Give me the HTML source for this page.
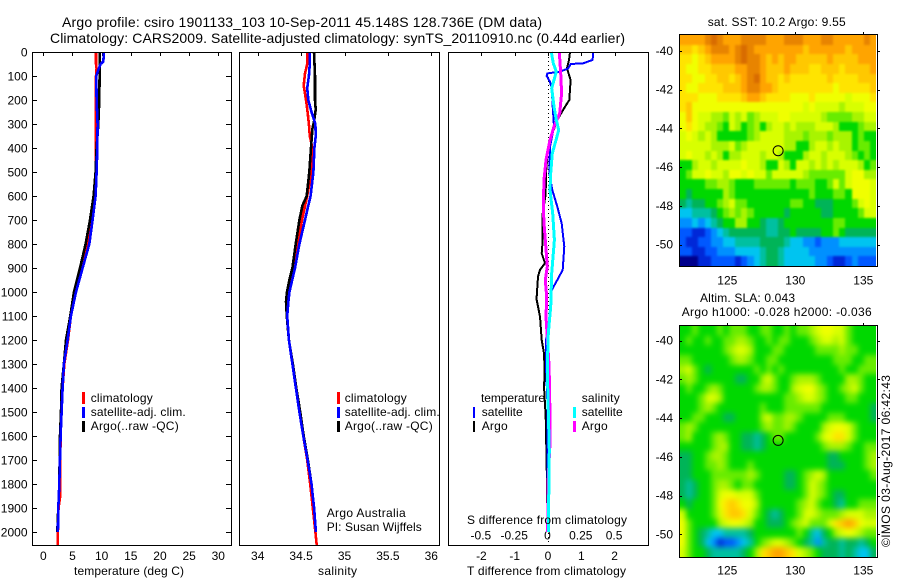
<!DOCTYPE html>
<html lang="en">
<head>
<meta charset="utf-8">
<title>Argo profile csiro 1901133_103</title>
<style>
html,body{margin:0;padding:0;background:#fff;}
svg{display:block;font-family:"Liberation Sans",sans-serif;font-size:12px;fill:#000;}
.frame{fill:none;stroke:#000;stroke-width:1;shape-rendering:crispEdges;}
.tick{stroke:#000;stroke-width:1;shape-rendering:crispEdges;}
.line{fill:none;shape-rendering:crispEdges;stroke-linejoin:miter;}
.swatch{shape-rendering:crispEdges;}
.title{font-size:14px;}
</style>
</head>
<body>
<svg id="chart" xmlns="http://www.w3.org/2000/svg" width="900" height="580" viewBox="0 0 900 580">
  <defs>
    <clipPath id="clip-sst"><rect x="680" y="35" width="196" height="231"/></clipPath>
    <clipPath id="clip-sla"><rect x="680" y="326" width="196" height="231"/></clipPath>
    <filter id="soft-sst" filterUnits="userSpaceOnUse" x="650" y="5" width="256" height="291" color-interpolation-filters="sRGB"><feGaussianBlur stdDeviation="1"/></filter>
    <filter id="soft-sla" filterUnits="userSpaceOnUse" x="650" y="296" width="256" height="291" color-interpolation-filters="sRGB"><feGaussianBlur stdDeviation="3"/></filter>
  </defs>
  <rect x="0" y="0" width="900" height="580" fill="#fff"/>
  <text class="title" x="62" y="27" textLength="480" lengthAdjust="spacing">Argo profile: csiro 1901133_103 10-Sep-2011 45.148S 128.736E (DM data)</text>
  <text class="title" x="50" y="43" textLength="575" lengthAdjust="spacing">Climatology: CARS2009. Satellite-adjusted climatology: synTS_20110910.nc (0.44d earlier)</text>

  <g clip-path="url(#clip-sst)"><g id="heat-sst" filter="url(#soft-sst)"></g></g>
  <g clip-path="url(#clip-sla)"><g id="heat-sla" filter="url(#soft-sla)"></g></g>
  <g id="axes"></g>
  <g id="series"></g>

  <rect class="frame" x="32.5" y="52.5" width="199" height="493"/>
  <rect class="frame" x="239.5" y="52.5" width="200" height="493"/>
  <rect class="frame" x="448.5" y="52.5" width="200" height="493"/>
  <rect class="frame" x="679.5" y="34.5" width="198" height="232"/>
  <rect class="frame" x="679.5" y="325.5" width="198" height="232"/>

  <text x="74" y="575" textLength="110" lengthAdjust="spacing">temperature (deg C)</text>
  <text x="318" y="575" textLength="39" lengthAdjust="spacing">salinity</text>
  <text x="467" y="575" textLength="159" lengthAdjust="spacing">T difference from climatology</text>
  <text x="467" y="524" textLength="160" lengthAdjust="spacing">S difference from climatology</text>

  <g>
    <rect class="swatch" x="82" y="392" width="3" height="12" fill="#f00"/>
    <rect class="swatch" x="82" y="407" width="3" height="11" fill="#00f"/>
    <rect class="swatch" x="82" y="421" width="3" height="11" fill="#000"/>
    <text x="90.7" y="402" textLength="62" lengthAdjust="spacing">climatology</text>
    <text x="90.7" y="416" textLength="95" lengthAdjust="spacing">satellite-adj. clim.</text>
    <text x="90.7" y="430" textLength="88" lengthAdjust="spacing">Argo(..raw -QC)</text>
  </g>
  <g>
    <rect class="swatch" x="337" y="392" width="3" height="12" fill="#f00"/>
    <rect class="swatch" x="337" y="407" width="3" height="11" fill="#00f"/>
    <rect class="swatch" x="337" y="421" width="3" height="11" fill="#000"/>
    <text x="344.7" y="402" textLength="62" lengthAdjust="spacing">climatology</text>
    <text x="344.7" y="416" textLength="95" lengthAdjust="spacing">satellite-adj. clim.</text>
    <text x="344.7" y="430" textLength="88" lengthAdjust="spacing">Argo(..raw -QC)</text>
    <text x="326.7" y="517" textLength="79" lengthAdjust="spacing">Argo Australia</text>
    <text x="326.7" y="531" textLength="95" lengthAdjust="spacing">PI: Susan Wijffels</text>
  </g>
  <g>
    <text x="481" y="402" textLength="64" lengthAdjust="spacing">temperature</text>
    <rect class="swatch" x="473" y="407" width="2" height="11" fill="#00f"/>
    <rect class="swatch" x="473" y="421" width="2" height="11" fill="#000"/>
    <text x="481.7" y="416" textLength="41" lengthAdjust="spacing">satellite</text>
    <text x="481.7" y="430" textLength="26" lengthAdjust="spacing">Argo</text>
    <text x="581.7" y="402" textLength="38" lengthAdjust="spacing">salinity</text>
    <rect class="swatch" x="573" y="407" width="3" height="11" fill="#0ff"/>
    <rect class="swatch" x="573" y="421" width="3" height="11" fill="#f0f"/>
    <text x="581.7" y="416" textLength="41" lengthAdjust="spacing">satellite</text>
    <text x="581.7" y="430" textLength="26" lengthAdjust="spacing">Argo</text>
  </g>

  <text x="707.7" y="26" textLength="138" lengthAdjust="spacing">sat. SST: 10.2 Argo: 9.55</text>
  <text x="700" y="302" textLength="95" lengthAdjust="spacing">Altim. SLA: 0.043</text>
  <text x="681.7" y="316" textLength="190" lengthAdjust="spacing">Argo h1000: -0.028 h2000: -0.036</text>
  <text transform="translate(890,547) rotate(-90)" x="0" y="0" textLength="172" lengthAdjust="spacing">©IMOS 03-Aug-2017 06:42:43</text>
</svg>

<script>
// ---- axis tick labels ----
const depthTicks = [0,100,200,300,400,500,600,700,800,900,1000,1100,1200,1300,1400,1500,1600,1700,1800,1900,2000];
const tempTicks = [0,5,10,15,20,25,30];
const salTicks = [34,34.5,35,35.5,36];
const tDiffTicks = [-2,-1,0,1,2];
const sDiffTicks = [-0.5,-0.25,0,0.25,0.5];
const lonTicks = [125,130,135];
const latTicks = [-40,-42,-44,-46,-48,-50];

// ---- temperature profiles (depth, deg C) ----
const tempClimDepth = [0,50,70,100,400,500,600,700,800,900,1000,1100,1200,1300,1400,1500,1600,1800,1850,1900,2000,2054];
const tempClimValue = [9.03,9.03,9.14,9.03,9.03,9.0,8.86,8.11,7.54,6.46,5.37,4.74,4.23,3.6,3.31,3.14,2.97,2.86,2.9,2.6,2.5,2.5];
const tempArgoDepth = [0,200,300,400,500,600,700,800,900,1000,1100,1200,1300,1400,1500,1600,1800,1900,2000];
const tempArgoValue = [9.71,9.6,9.43,9.14,8.97,8.63,8.0,7.26,6.29,5.26,4.63,3.89,3.54,3.14,3.03,2.86,2.74,2.57,2.4];
const tempSatDepth = [0,40,50,70,100,200,300,400,500,600,700,800,900,1000,1100,1200,1300,1400,1500,1600,1800,1900,2000];
const tempSatValue = [10.4,10.29,9.83,9.49,9.09,9.14,9.31,9.26,9.14,8.97,8.46,7.89,6.74,5.6,4.74,4.17,3.54,3.31,3.14,2.97,2.74,2.57,2.51];

// ---- salinity profiles (depth, psu) ----
const salClimDepth = [0,50,90,140,200,250,300,350,400,500,600,700,800,900,1000,1100,1200,1300,1400,1500,1600,1700,1800,1900,2000,2054];
const salClimValue = [34.57,34.57,34.545,34.53,34.557,34.575,34.59,34.6,34.63,34.62,34.57,34.51,34.46,34.41,34.36,34.34,34.36,34.4,34.44,34.48,34.525,34.57,34.605,34.635,34.665,34.68];
const salArgoDepth = [0,100,200,240,290,320,400,500,600,640,700,800,900,950,1000,1040,1100,1200,1300,1400,1500,1600,1700,1800,1900,2000];
const salArgoValue = [34.649,34.66,34.66,34.668,34.649,34.63,34.614,34.595,34.565,34.515,34.48,34.438,34.4,34.365,34.338,34.326,34.335,34.36,34.405,34.445,34.49,34.53,34.578,34.62,34.65,34.67];
const salSatDepth = [0,50,100,150,200,250,300,350,400,500,600,640,700,800,900,1000,1040,1100,1200,1300,1400,1500,1600,1700,1800,1900,2000];
const salSatValue = [34.6,34.6,34.59,34.57,34.583,34.62,34.665,34.668,34.653,34.642,34.61,34.583,34.545,34.48,34.43,34.365,34.354,34.34,34.36,34.4,34.44,34.48,34.525,34.575,34.62,34.65,34.67];

// ---- difference profiles (depth, T in deg C, S in psu) ----
const dTempArgoDepth = [0,33,68,117,200,235,283,325,367,436,505,547,603,672,783,839,880,908,936,1019,1033,1103,1200,1256,1339,1394,1519,1728,2000];
const dTempArgoValue = [0.66,0.63,0.57,0.68,0.64,0.48,0.28,0.17,0.04,-0.02,-0.06,-0.06,-0.08,-0.16,-0.16,-0.19,-0.09,-0.24,-0.3,-0.34,-0.34,-0.24,-0.19,-0.12,-0.1,-0.12,-0.07,-0.04,-0.01];
const dTempSatDepth = [0,33,47,50,68,82,89,100,124,151,228,311,394,505,575,644,714,811,908,950,992,1075,1116,1200,1311,1450,1728,2000];
const dTempSatValue = [1.36,1.34,1.06,0.68,0.61,0.36,-0.02,-0.04,0.06,0.11,0.14,0.18,0.06,0.04,0.13,0.28,0.41,0.49,0.44,0.28,0.11,0.08,0.06,-0.06,-0.06,-0.02,-0.02,0.0];
const dSalSatDepth = [0,47,82,117,151,228,283,325,367,422,505,575,672,783,922,1061,1172,1311,1450,1658,2000];
const dSalSatValue = [0.025,0.04,0.062,0.045,0.028,0.045,0.062,0.08,0.06,0.032,0.02,0.015,0.035,0.048,0.028,0.02,0.002,-0.005,0,0.01,0.002];
const dSalArgoDepth = [0,89,172,256,311,367,450,533,644,714,783,894,950,1019,1103,1311,1519,1630,1797,2000];
const dSalArgoValue = [0.085,0.095,0.102,0.088,0.045,0.015,-0.015,-0.03,-0.035,-0.03,-0.02,-0.005,-0.02,-0.01,-0.015,0.008,0.015,0.015,0,-0.002];

// ---- gridded maps: colour level per cell, north to south ----
const sstLevels = [
[14,14,14,14,15,16,15,14,14,14,15,15,15,15,14,14,14,15,15,15,14,14,14,15,15,14,14,14,14,14,15,14],
[13,13,12,13,14,15,15,15,14,15,16,15,14,14,14,14,14,14,14,14,13,14,14,14,14,14,14,13,14,14,14,14],
[12,12,11,12,13,14,14,14,14,15,16,15,15,14,13,14,13,14,14,13,13,13,13,13,14,13,13,13,13,14,14,14],
[12,11,11,12,12,13,13,13,13,14,14,15,15,14,13,13,13,14,13,13,13,12,12,13,13,13,12,13,13,13,13,14],
[12,12,11,11,12,12,13,13,12,13,14,15,16,14,13,13,12,13,12,12,12,12,12,12,13,12,12,12,12,13,13,13],
[12,11,11,12,12,12,12,13,13,13,14,15,15,14,14,13,12,12,12,12,12,12,12,12,12,11,12,12,12,12,12,13],
[12,12,12,11,11,11,12,12,12,12,13,14,14,13,12,12,12,12,11,11,11,12,11,11,11,11,11,10,11,11,11,12],
[12,13,11,11,11,11,11,11,11,11,11,11,11,11,11,11,11,11,11,11,10,11,10,10,10,10,9,10,10,10,11,11],
[11,13,11,10,10,9,9,8,10,9,10,8,9,10,10,10,11,11,10,10,10,10,10,9,8,8,8,8,9,9,10,10],
[11,12,11,10,9,9,8,7,10,9,7,8,9,7,9,10,10,9,10,9,9,9,10,10,10,9,7,7,7,8,9,9],
[10,11,10,9,10,9,7,7,7,7,7,8,9,10,10,10,10,9,9,9,8,9,9,9,8,9,9,9,7,8,7,7],
[10,10,10,10,10,9,9,9,10,8,9,10,10,10,10,10,10,9,9,7,7,9,10,10,9,10,9,9,7,8,8,7],
[10,11,10,10,9,10,9,7,9,9,10,10,10,9,10,10,9,7,7,7,9,10,10,9,10,10,10,9,8,7,8,7],
[7,7,9,10,10,9,10,10,10,10,11,10,10,9,7,7,10,9,7,10,10,9,10,9,10,9,10,10,10,9,7,8],
[7,8,10,10,11,10,10,9,11,11,10,11,10,10,8,10,10,10,10,10,9,8,8,8,8,8,8,10,11,11,9,9],
[7,7,7,7,8,8,9,9,8,7,7,7,8,8,8,8,8,8,7,8,8,8,7,7,8,10,8,10,11,11,11,10],
[7,6,7,7,7,7,7,9,8,7,7,7,7,7,7,7,7,7,7,7,7,8,7,7,7,8,8,7,11,11,11,10],
[6,5,6,6,7,7,8,9,10,8,8,7,7,7,7,7,7,7,8,8,7,7,6,6,6,7,7,7,8,10,11,10],
[4,4,5,5,5,6,7,8,9,8,9,8,7,7,7,7,7,6,7,7,7,7,7,6,6,7,7,7,7,8,10,10],
[3,3,4,3,4,5,6,7,7,9,9,7,7,6,5,5,6,7,7,7,7,7,7,7,7,8,8,7,7,7,7,7],
[2,2,1,1,2,3,4,5,6,6,6,6,6,6,5,5,6,6,7,6,6,6,6,7,7,8,7,6,6,6,6,6],
[2,1,1,2,2,3,3,4,4,5,5,5,5,6,6,6,6,5,4,4,3,3,2,3,3,3,4,4,4,4,4,4],
[2,2,1,1,2,2,3,3,3,4,4,4,4,5,6,6,5,4,4,4,4,3,3,3,3,3,3,3,3,3,3,3],
[0,0,0,1,1,2,2,2,2,1,2,3,4,5,6,6,5,4,4,4,4,4,3,3,2,1,1,2,3,2,2,2]
];
const slaLevels = [
[7,7,8,7,7,7,8,7,8,8,8,7,7,8,8,7,7,8,7,8,8,9,10,11,11,10,10,8,7,7,7,7],
[7,8,7,7,8,7,7,8,8,9,9,8,7,7,8,7,8,8,7,7,7,8,9,10,10,9,10,8,7,7,7,7],
[7,7,7,7,7,7,7,8,9,10,10,9,7,7,7,8,8,7,7,7,7,7,8,8,8,8,9,8,8,7,7,7],
[8,8,7,7,7,7,7,7,8,9,9,8,7,7,8,8,7,7,7,7,7,7,7,7,7,8,8,8,7,7,8,8],
[9,10,8,7,6,7,7,7,7,7,7,7,8,7,8,7,8,7,7,7,7,7,7,7,7,7,8,7,7,8,8,8],
[8,9,8,7,7,7,7,7,7,6,6,7,7,9,10,8,7,7,8,9,9,9,8,7,7,7,7,9,9,8,7,7],
[7,8,7,7,8,9,8,7,7,7,7,7,8,9,9,8,7,7,9,10,11,11,9,8,7,7,8,9,10,8,7,7],
[7,7,7,8,10,10,9,7,7,7,7,7,7,7,7,7,7,8,8,9,10,10,9,8,7,7,7,8,8,7,7,7],
[7,7,7,8,9,8,7,7,7,7,7,7,7,8,7,7,7,8,8,8,8,8,8,7,7,7,7,7,7,7,7,6],
[7,7,8,8,7,7,7,6,6,7,7,7,7,9,10,8,8,9,9,8,7,7,7,7,8,8,8,7,7,7,7,6],
[8,9,8,7,7,7,7,7,7,7,7,7,7,8,9,8,8,9,8,7,7,7,7,9,10,11,11,10,8,7,7,7],
[8,9,7,7,7,8,9,8,7,7,6,6,5,6,7,8,8,7,7,7,7,7,8,10,11,12,12,10,8,7,7,7],
[7,7,7,7,7,8,9,9,7,7,6,6,5,6,7,7,7,7,7,7,7,7,7,8,9,9,9,8,7,7,8,8],
[6,6,7,7,8,9,9,8,7,7,7,7,7,7,7,7,7,7,7,7,7,7,7,7,6,6,7,7,7,7,8,9],
[6,6,7,7,8,8,9,8,7,7,7,8,7,7,7,7,7,7,7,7,7,7,7,7,6,6,6,7,7,7,8,9],
[6,6,7,7,7,8,8,8,8,8,8,9,8,7,7,7,7,6,6,7,8,9,10,9,7,7,7,7,7,7,7,8],
[6,5,6,7,7,8,9,9,8,7,8,8,7,7,7,7,7,6,6,7,8,10,9,8,7,7,7,7,7,7,7,7],
[6,5,6,7,7,8,10,11,11,10,10,10,8,7,7,7,7,7,7,7,8,10,9,8,7,6,6,7,7,7,7,7],
[7,6,7,7,7,8,11,12,13,12,11,11,9,7,7,7,7,7,7,8,9,10,8,7,7,6,5,7,7,8,8,8],
[10,7,7,7,7,8,10,12,13,13,12,10,8,7,6,5,6,7,7,8,10,10,9,8,8,8,9,10,10,10,9,9],
[11,8,7,7,7,7,9,10,11,11,10,9,7,7,6,6,6,7,8,9,10,8,8,8,10,12,13,14,13,11,10,10],
[11,8,7,6,5,4,4,5,5,5,5,6,7,7,7,7,7,7,7,8,7,5,4,6,7,9,10,11,10,9,8,8],
[11,8,7,6,4,3,1,2,2,3,4,5,7,8,9,10,10,9,8,7,6,5,3,5,6,6,5,6,6,5,6,7],
[10,8,7,7,6,5,5,5,5,5,6,7,9,12,13,14,14,13,12,10,9,8,7,6,6,6,5,6,5,4,4,6]
];
const argoLon = 128.736;
const argoLat = -45.148;

// ---- axis functions ----
const yDepth = d => 52 + d * 0.24;
const xTemp = t => 43.3 + t * 5.833;
const xSal = s => 257.7 + (s - 34) * 86.8;
const xDT = t => 548 + t * 33.3;
const xDS = s => 548 + s * 133.2;
const xLon = lon => 795.3 + (lon - 130) * 13.6;
const yLatA = lat => 51 + (-40 - lat) * 19.37;
const yLatB = lat => 340.7 + (-40 - lat) * 19.37;

const NS = 'http://www.w3.org/2000/svg';
const axesG = document.getElementById('axes');
const seriesG = document.getElementById('series');

function mk(tag, parent, attrs) {
  const el = document.createElementNS(NS, tag);
  for (const k in attrs) el.setAttribute(k, attrs[k]);
  parent.appendChild(el);
  return el;
}
function tickLine(x1, y1, x2, y2) {
  const el = mk('line', axesG, {x1: x1, y1: y1, x2: x2, y2: y2, 'class': 'tick'});
  
  
}
function tickLabel(x, y, anchor, str) {
  const el = mk('text', axesG, {x: x, y: y, 'text-anchor': anchor});
  el.textContent = str;
  
  
}
function px(v) { return Math.round(v) + 0.5; }

// depth axis on the temperature panel
depthTicks.forEach(d => {
  const y = px(yDepth(d));
  tickLine(32, y, 37, y);
  tickLine(226, y, 231, y);
  tickLabel(27.5, y + 4, 'end', String(d));
});
// top ticks and bottom labels of the profile panels
tempTicks.forEach(t => {
  tickLine(px(xTemp(t)), 52, px(xTemp(t)), 56);
  tickLabel(xTemp(t), 560, 'middle', String(t));
});
salTicks.forEach(s => {
  tickLine(px(xSal(s)), 52, px(xSal(s)), 56);
  tickLabel(xSal(s), 560, 'middle', String(s));
});
tDiffTicks.forEach(t => {
  tickLine(px(xDT(t)), 52, px(xDT(t)), 56);
  tickLabel(xDT(t), 560, 'middle', String(t));
});
sDiffTicks.forEach(s => {
  tickLabel(xDS(s) - 0.5, 539.5, 'middle', String(s));
});
// map axes
lonTicks.forEach(lon => {
  const x = px(xLon(lon));
  tickLine(x, 32, x, 34);
  tickLine(x, 323, x, 325);
  tickLabel(xLon(lon), 284.5, 'middle', String(lon));
  tickLabel(xLon(lon), 574.5, 'middle', String(lon));
});
latTicks.forEach(lat => {
  const a = px(yLatA(lat));
  const b = px(yLatB(lat));
  tickLine(680, a, 682, a);
  tickLine(878, a, 880, a);
  tickLine(680, b, 682, b);
  tickLine(878, b, 880, b);
  tickLabel(673, yLatA(lat) + 4, 'end', String(lat));
  tickLabel(673, yLatB(lat) + 4, 'end', String(lat));
});

// zero reference line on the difference panel
const zeroLine = mk('line', axesG, {x1: px(xDT(0)), y1: 53, x2: px(xDT(0)), y2: 545, stroke: '#000', 'stroke-width': 1, 'stroke-dasharray': '1 3', 'shape-rendering': 'crispEdges'});



// profile lines
function pts(depths, values, xf) {
  return depths.map((d, i) => xf(values[i]).toFixed(1) + ',' + yDepth(d).toFixed(1)).join(' ');
}
function profile(depths, values, xf, color, weight) {
  return mk('polyline', seriesG, {points: pts(depths, values, xf), 'class': 'line', stroke: color, 'stroke-width': weight});
}
let line;
line = profile(tempClimDepth, tempClimValue, xTemp, '#f00', 2.6);


line = profile(tempArgoDepth, tempArgoValue, xTemp, '#000', 2.6);


line = profile(tempSatDepth, tempSatValue, xTemp, '#00f', 2.6);


line = profile(salClimDepth, salClimValue, xSal, '#f00', 2.6);


line = profile(salArgoDepth, salArgoValue, xSal, '#000', 2.6);


line = profile(salSatDepth, salSatValue, xSal, '#00f', 2.6);


line = profile(dTempArgoDepth, dTempArgoValue, xDT, '#000', 2);


line = profile(dTempSatDepth, dTempSatValue, xDT, '#00f', 2);


line = profile(dSalArgoDepth, dSalArgoValue, xDS, '#f0f', 3);


line = profile(dSalSatDepth, dSalSatValue, xDS, '#0ff', 3);



// heatmaps: outer cells bleed past the frame so softening stays opaque at the clip edge
const colourStops = ['#00008c','#0028d8','#0058ff','#0090ff','#00c4f0','#00c0a0','#00b458','#00d800','#68ec00','#a8f400','#d8ff00','#f0ff00','#ffe400','#ffc800','#ffa400','#e88400','#d86c00'];
function heatmap(groupId, levels, left, top, width, height) {
  const g = document.getElementById(groupId);
  const rows = levels.length;
  const cols = levels[0].length;
  const cw = width / cols;
  const ch = height / rows;
  const bleed = 14;
  levels.forEach((row, r) => {
    row.forEach((v, c) => {
      const x0 = Math.round(left + c * cw) - (c === 0 ? bleed : 0);
      const x1 = Math.round(left + (c + 1) * cw) + (c === cols - 1 ? bleed : 0);
      const y0 = Math.round(top + r * ch) - (r === 0 ? bleed : 0);
      const y1 = Math.round(top + (r + 1) * ch) + (r === rows - 1 ? bleed : 0);
      const level = Math.max(0, Math.min(colourStops.length - 1, Math.round(v)));
      const cell = mk('rect', g, {x: x0, y: y0, width: x1 - x0, height: y1 - y0, fill: colourStops[level], 'shape-rendering': 'crispEdges'});
      
      
    });
  });
}
heatmap('heat-sst', sstLevels, 680, 35, 196, 231);
heatmap('heat-sla', slaLevels, 680, 326, 196, 231);

// Argo float position markers
let marker;
marker = mk('circle', axesG, {cx: xLon(argoLon), cy: yLatA(argoLat), r: 5, fill: 'none', stroke: '#000', 'stroke-width': 1});


marker = mk('circle', axesG, {cx: xLon(argoLon), cy: yLatB(argoLat), r: 5, fill: 'none', stroke: '#000', 'stroke-width': 1});


</script>
</body>
</html>
